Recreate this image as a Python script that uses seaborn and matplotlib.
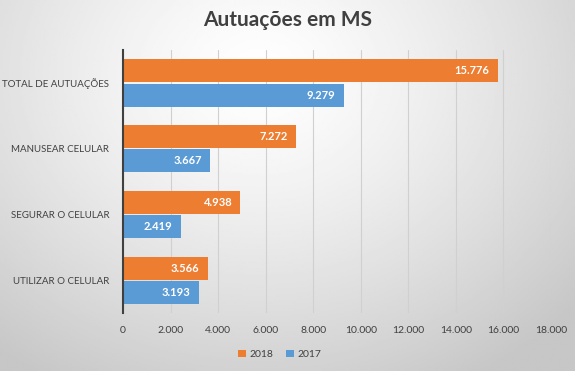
import numpy as np
import pandas as pd
import matplotlib
matplotlib.use("Agg")
import matplotlib.pyplot as plt
import seaborn as sns

categorias = ["TOTAL DE AUTUAÇÕES", "MANUSEAR CELULAR", "SEGURAR O CELULAR", "UTILIZAR O CELULAR"]
anos = ["2018", "2017"]
valores_2018 = [15776, 7272, 4938, 3566]
valores_2017 = [9279, 3667, 2419, 3193]
xticks = list(range(0, 18001, 2000))

df = pd.DataFrame({
    "categoria": categorias * 2,
    "ano": ["2018"] * 4 + ["2017"] * 4,
    "valor": valores_2018 + valores_2017,
})

sns.set_theme(style="white")
plt.rcParams["font.family"] = ["Lato", "DejaVu Sans"]

fig = plt.figure(figsize=(5.75, 3.71), dpi=100)

# radial grey background
bg = fig.add_axes([0, 0, 1, 1], zorder=-10)
yy, xx = np.mgrid[0:1:200j, 0:1:300j]
r = np.sqrt(((xx - 0.45) * 1.3) ** 2 + (yy - 0.2) ** 2)
bg.imshow(1 - 0.22 * np.clip(r / 0.95, 0, 1) ** 1.3, cmap="gray", vmin=0, vmax=1,
          extent=[0, 1, 1, 0], aspect="auto", interpolation="bilinear")
bg.axis("off")

ax = fig.add_axes([0.214, 0.156, 0.744, 0.709])
ax.patch.set_alpha(0)
cores = {"2018": "#ED7D31", "2017": "#5B9BD5"}
sns.barplot(data=df, y="categoria", x="valor", hue="ano", hue_order=anos,
            palette=cores, orient="h", width=0.74, gap=0.06, saturation=1,
            linewidth=0, ax=ax, legend=True)

for p in ax.patches:
    w = p.get_width()
    if w <= 0:
        continue
    ax.text(w - 350, p.get_y() + p.get_height() / 2, f"{int(w):,}".replace(",", "."),
            ha="right", va="center", color="white", fontsize=8, fontweight="bold")

ax.set_xlim(0, 18000)
ax.set_xticks(xticks)
ax.set_xticklabels([f"{t:,}".replace(",", ".") for t in xticks])
ax.xaxis.grid(True, color="#d0d0d0", linewidth=0.8)
ax.set_axisbelow(True)
ax.set_xlabel("")
ax.set_ylabel("")
ax.tick_params(axis="both", length=0, labelsize=7.5, colors="#404040")
ax.tick_params(axis="y", pad=10, labelsize=7)
ax.tick_params(axis="x", pad=9)
for s in ["top", "right", "bottom"]:
    ax.spines[s].set_visible(False)
ax.spines["left"].set_color("#404040")
ax.spines["left"].set_linewidth(1.5)

ax.legend(loc="center", bbox_to_anchor=(0.367, -0.157), ncol=2, frameon=False,
          fontsize=7.5, handlelength=0.7, handleheight=0.7, handletextpad=0.4,
          columnspacing=1.2, labelcolor="#404040")

fig.text(0.5, 0.945, "Autuações em MS", ha="center", va="center",
         fontsize=15, fontweight="bold", color="#404040")

fig.savefig("out.png", dpi=100)
